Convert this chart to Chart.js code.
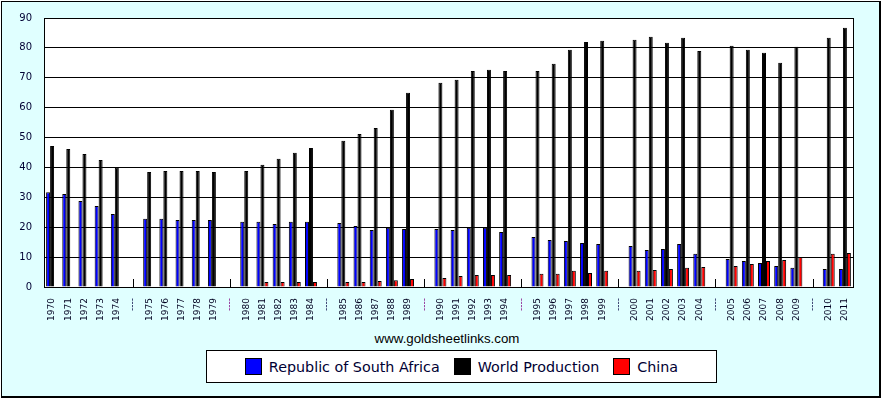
<!DOCTYPE html>
<html>
<head>
<meta charset="utf-8">
<script src="https://cdn.jsdelivr.net/npm/chart.js@4.4.1/dist/chart.umd.min.js"></script>
<style>
    html, body { margin: 0; padding: 0; background: #fff; }
    #frame {
        position: absolute; left: 1px; top: 1px; width: 877px; height: 394px;
        background: #E0FFFF;
        border-left: 1px solid #000; border-top: 1px solid #000;
        border-right: 2px solid #000; border-bottom: 2px solid #000;
    }
    #chart-wrap { position: absolute; left: 0; top: 0; width: 882px; height: 330px; }
    #source {
        position: absolute; left: 0; width: 894px; top: 331px; text-align: center;
        font: 13.3px "Liberation Sans", Arial, sans-serif; color: #000;
    }
    #legend {
        position: absolute; left: 206px; top: 350px; width: 509px; height: 31px;
        background: #fff; border: 1px solid #000;
        display: flex; align-items: center; justify-content: center;
        font: 14.3px "DejaVu Sans", sans-serif; color: #000033;
    }
    .item { display: flex; align-items: center; margin: 0 7px; }
    .swatch { width: 15px; height: 15px; border: 1px solid #000; margin-right: 7px; }
</style>
</head>
<body>
<div id="frame"></div>
<div id="chart-wrap"><canvas id="gold-chart"></canvas></div>
<div id="source">www.goldsheetlinks.com</div>
<div id="legend"></div>
<script>
// Gold production, million oz

const GAP = '----';

const labels = [
    '1970', '1971', '1972', '1973', '1974', GAP,
    '1975', '1976', '1977', '1978', '1979', GAP,
    '1980', '1981', '1982', '1983', '1984', GAP,
    '1985', '1986', '1987', '1988', '1989', GAP,
    '1990', '1991', '1992', '1993', '1994', GAP,
    '1995', '1996', '1997', '1998', '1999', GAP,
    '2000', '2001', '2002', '2003', '2004', GAP,
    '2005', '2006', '2007', '2008', '2009', GAP,
    '2010', '2011'
];

const southAfrica = [
    31.7, 31.1, 28.8, 27.1, 24.4, null,
    22.8, 22.8, 22.4, 22.4, 22.4, null,
    21.8, 21.8, 21.1, 21.8, 21.8, null,
    21.4, 20.4, 19.1, 19.8, 19.4, null,
    19.4, 19.1, 19.8, 19.8, 18.4, null,
    16.7, 15.7, 15.4, 14.7, 14.4, null,
    13.7, 12.4, 12.7, 14.4, 11.1, null,
    9.4, 8.7, 8.0, 7.0, 6.4, null,
    6.0, 6.0
];

const world = [
    47.2, 46.2, 44.5, 42.5, 39.9, null,
    38.5, 38.8, 38.8, 38.8, 38.5, null,
    38.8, 40.9, 42.9, 44.9, 46.5, null,
    48.9, 51.2, 53.2, 59.3, 65.0, null,
    68.3, 69.3, 72.3, 72.7, 72.3, null,
    72.3, 74.7, 79.4, 82.0, 82.4, null,
    82.7, 83.7, 81.7, 83.4, 79.0, null,
    80.7, 79.4, 78.4, 75.0, 80.4, null,
    83.4, 86.7
];

const china = [
    null, null, null, null, null, null,
    null, null, null, null, null, null,
    null, 1.7, 1.7, 1.7, 1.7, null,
    1.7, 1.7, 2.0, 2.3, 2.7, null,
    3.0, 3.7, 4.0, 4.0, 4.0, null,
    4.4, 4.4, 5.4, 4.7, 5.4, null,
    5.4, 5.7, 6.0, 6.4, 6.7, null,
    7.0, 7.7, 8.7, 9.0, 10.0, null,
    11.1, 11.4
];

const seriesNames = ['Republic of South Africa', 'World Production', 'China'];
const seriesColors = ['#0000FF', '#000000', '#FF0000'];
const seriesData = [southAfrica, world, china];

// Gap separators alternate colour in the original
const gapColors = ['#000040', '#800080', '#000040', '#800080', '#800080', '#000040', '#000040', '#000040'];

// White plot area, outline and small separator ticks
const plotFrame = {
    id: 'plotFrame',
    beforeDraw(chart) {
        const { ctx, chartArea: a } = chart;
        ctx.save();
        ctx.fillStyle = '#fff';
        ctx.fillRect(a.left, a.top, a.right - a.left, a.bottom - a.top);
        ctx.restore();
    },
    afterDraw(chart) {
        const { ctx, chartArea: a } = chart;
        const x = chart.scales.x;
        ctx.save();
        ctx.strokeStyle = '#000';
        ctx.lineWidth = 1;
        ctx.strokeRect(Math.round(a.left) + 0.5, Math.round(a.top) + 0.5,
            Math.round(a.right - a.left), Math.round(a.bottom - a.top));
        ctx.beginPath();
        labels.forEach((l, i) => {
            if (l !== GAP) return;
            const px = Math.round(x.getPixelForValue(i)) + 0.5;
            ctx.moveTo(px, a.bottom - 8);
            ctx.lineTo(px, a.bottom);
        });
        ctx.stroke();
        ctx.restore();
    }
};

function initChart() {
    const ctx = document.getElementById('gold-chart').getContext('2d');
    new Chart(ctx, {
        type: 'bar',
        data: {
            labels: labels,
            datasets: seriesData.map((d, i) => ({
                label: seriesNames[i],
                data: d,
                backgroundColor: seriesColors[i],
                borderColor: '#000',
                borderWidth: 1,
                borderSkipped: 'bottom',
                categoryPercentage: 0.74,
                barPercentage: 1.0
            }))
        },
        options: {
            responsive: true,
            maintainAspectRatio: false,
            animation: false,
            layout: { padding: { top: 18, right: 29, left: 0, bottom: 0 } },
            scales: {
                x: {
                    grid: { display: false, drawTicks: false },
                    border: { display: true, color: '#000' },
                    afterFit: (s) => { s.height = 43; },
                    ticks: {
                        autoSkip: false,
                        minRotation: 90,
                        maxRotation: 90,
                        padding: 11,
                        font: { family: 'DejaVu Sans', size: 9 },
                        color: (c) => {
                            if (labels[c.index] !== GAP) return '#000020';
                            const n = labels.slice(0, c.index).filter(l => l === GAP).length;
                            return gapColors[n];
                        }
                    }
                },
                y: {
                    min: 0,
                    max: 90,
                    afterFit: (s) => { s.width = 44; },
                    grid: { color: '#000', drawTicks: false },
                    border: { display: true, color: '#000' },
                    ticks: {
                        stepSize: 10,
                        padding: 12,
                        font: { family: 'DejaVu Sans', size: 10 },
                        color: '#000033'
                    }
                }
            },
            plugins: {
                legend: { display: false },
                tooltip: { enabled: false }
            }
        },
        plugins: [plotFrame]
    });
}

// Legend built from the same series arrays
function buildLegend() {
    const box = document.getElementById('legend');
    seriesNames.forEach((name, i) => {
        const item = document.createElement('div');
        item.className = 'item';
        const sw = document.createElement('span');
        sw.className = 'swatch';
        sw.style.background = seriesColors[i];
        const txt = document.createElement('span');
        txt.textContent = name;
        item.appendChild(sw);
        item.appendChild(txt);
        box.appendChild(item);
    });
}

buildLegend();
initChart();
</script>
</body>
</html>
